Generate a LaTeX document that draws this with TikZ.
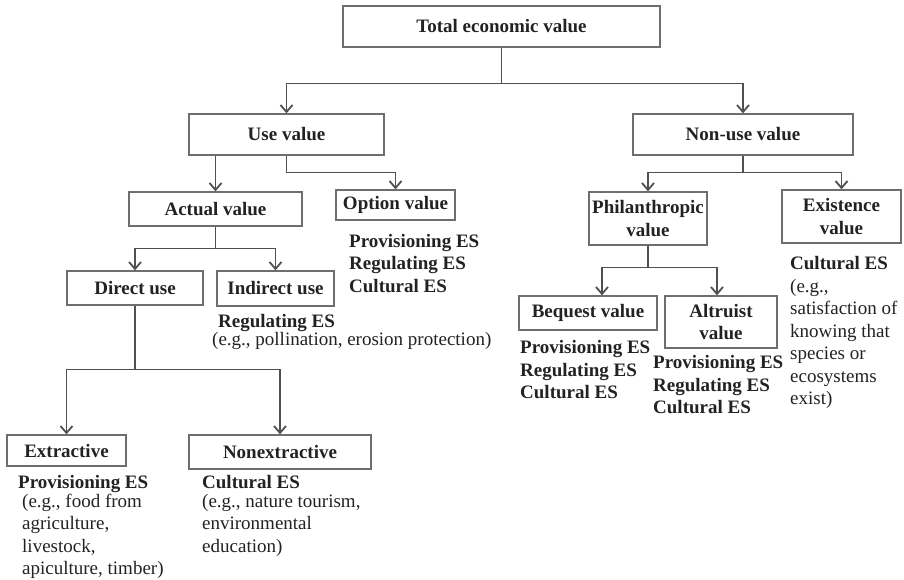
\documentclass[tikz,border=0pt]{standalone}
\usepackage{fontspec}
\setmainfont{Liberation Serif}
\usepackage{xcolor}
\usepackage{tikz}
\usetikzlibrary{arrows.meta, positioning}

\definecolor{boxgray}{HTML}{6E6E6E}
\definecolor{linegray}{HTML}{505050}
\definecolor{txtgray}{HTML}{222222}
\newcommand{\valfont}{\fontsize{19}{22.5}\selectfont}

\tikzset{
    valbox/.style={draw=boxgray, line width=1.3pt, text=txtgray, font=\bfseries\valfont, align=center, inner sep=2pt},
    eslabel/.style={anchor=north west, inner sep=0pt, align=left, text=txtgray, font=\valfont},
    link/.style={draw=linegray, line width=1.2pt},
}

\begin{document}
\begin{tikzpicture}[x=1pt, y=-1pt, >={Straight Barb[length=7pt,width=12pt,line width=1.8pt]}]
    \useasboundingbox (0,0) rectangle (904,580);

    % Value boxes
    \node[valbox, minimum width=317pt, minimum height=41pt] (tev) at (501.5,26.5) {Total economic value};
    \node[valbox, minimum width=195pt, minimum height=41pt] (use) at (286.5,134.5) {Use value};
    \node[valbox, minimum width=220pt, minimum height=41pt] (nonuse) at (743,134.5) {Non-use value};
    \node[valbox, minimum width=173pt, minimum height=34pt] (act) at (215.5,209) {Actual value};
    \node[valbox, minimum width=119pt, minimum height=30pt] (opt) at (395.5,205) {Option value};
    \node[valbox, minimum width=136pt, minimum height=34pt] (dir) at (135,288) {Direct use};
    \node[valbox, minimum width=117pt, minimum height=35pt] (ind) at (275.5,288.5) {Indirect use};
    \node[valbox, minimum width=119pt, minimum height=31pt] (extr) at (66.5,450.5) {Extractive};
    \node[valbox, minimum width=182pt, minimum height=34pt] (nonex) at (280,452) {Nonextractive};
    \node[valbox, minimum width=118pt, minimum height=53pt] (phil) at (648,218.5) {Philanthropic\\value};
    \node[valbox, minimum width=119pt, minimum height=53pt] (exist) at (841.5,216.5) {Existence\\value};
    \node[valbox, minimum width=138pt, minimum height=34pt] (beq) at (588,313) {Bequest value};
    \node[valbox, minimum width=112pt, minimum height=52pt] (alt) at (721,322) {Altruist\\value};

    % Ecosystem service labels
    \node[eslabel] (optlab) at (349,234) {\textbf{Provisioning ES}\\\textbf{Regulating ES}\\\textbf{Cultural ES}};
    \node[eslabel] (indlab) at (212,314) {\hspace*{6pt}\textbf{Regulating ES}\\[-4pt](e.g., pollination, erosion protection)};
    \node[eslabel] (extrlab) at (22,475.5) {\hspace*{-4pt}\textbf{Provisioning ES}\\[-4pt](e.g., food from\\agriculture,\\livestock,\\apiculture, timber)};
    \node[eslabel] (nonexlab) at (202,475.5) {\textbf{Cultural ES}\\[-4pt](e.g., nature tourism,\\environmental\\education)};
    \node[eslabel] (beqlab) at (520,340.5) {\textbf{Provisioning ES}\\\textbf{Regulating ES}\\\textbf{Cultural ES}};
    \node[eslabel] (altlab) at (653,355.5) {\textbf{Provisioning ES}\\\textbf{Regulating ES}\\\textbf{Cultural ES}};
    \node[eslabel] (existlab) at (790,256.5) {\textbf{Cultural ES}\\(e.g.,\\satisfaction of\\knowing that\\species or\\ecosystems\\exist)};

    % Total economic value
    \draw[link] (tev.south) -- ++(0,36) coordinate (tevj);
    \draw[link,->] (tevj) -| (use.north);
    \draw[link,->] (tevj) -| (nonuse.north);

    % Use value
    \draw[link,->] (use.south -| act.north) -- (act.north);
    \draw[link,->] (use.south) -- ++(0,17) -| (opt.north);

    % Actual value
    \draw[link] (act.south) -- ++(0,22) coordinate (actj);
    \draw[link,->] (actj) -| (dir.north);
    \draw[link,->] (actj) -| (ind.north);

    % Direct use
    \draw[link] (dir.south) -- ++(0,64) coordinate (dirj);
    \draw[link,->] (dirj) -| (extr.north);
    \draw[link,->] (dirj) -| (nonex.north);

    % Non-use value
    \draw[link] (nonuse.south) -- ++(0,17) coordinate (nonj);
    \draw[link,->] (nonj) -| (phil.north);
    \draw[link,->] (nonj) -| (exist.north);

    % Philanthropic value
    \draw[link] (phil.south) -- ++(0,22) coordinate (philj);
    \draw[link,->] (philj) -| ([xshift=14pt]beq.north);
    \draw[link,->] (philj) -| ([xshift=-4pt]alt.north);

\end{tikzpicture}
\end{document}
